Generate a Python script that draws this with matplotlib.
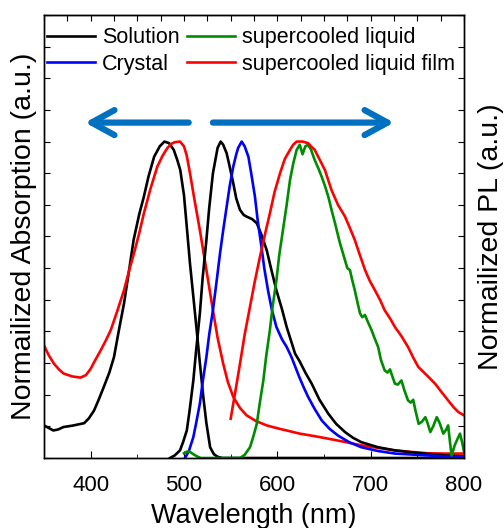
"""Absorption and PL spectra: solution, crystal, supercooled liquid and film."""

import matplotlib

matplotlib.use("Agg")
import matplotlib.pyplot as plt
from matplotlib.ticker import MultipleLocator

plt.rcParams["font.family"] = ["Liberation Sans", "DejaVu Sans"]

# absorption spectra (wavelength in nm, normalized intensity)
sol_abs_wl = [350, 355, 360, 365, 371, 380, 393, 398, 403.6, 408, 414, 420, 425,
              430, 435.7, 441, 446, 452, 457, 462, 468, 474, 479, 484, 489, 493,
              496, 500, 503, 506.4, 510, 513.6, 517, 520.7, 524, 528, 532, 536,
              541, 546, 600, 700, 800]
sol_abs = [0.103, 0.095, 0.087, 0.09, 0.098, 0.102, 0.110, 0.125, 0.150, 0.18,
           0.224, 0.27, 0.319, 0.40, 0.488, 0.59, 0.689, 0.77, 0.826, 0.89,
           0.952, 0.985, 1.0, 0.995, 0.974, 0.94, 0.91, 0.83, 0.73, 0.615, 0.51,
           0.404, 0.30, 0.193, 0.11, 0.034, 0.012, 0.004, 0.0, 0.0, 0.0, 0.0, 0.0]

film_abs_wl = [350, 355, 360.7, 366, 371, 380, 389, 395, 400, 405, 410.7, 416,
               421.5, 428, 435.7, 441, 446.4, 452, 457, 464, 471.4, 477, 482,
               486, 490, 495.7, 500, 503, 506.4, 511, 517, 524, 531, 536, 542,
               547, 552.8, 560, 567, 577, 588.6, 600, 610, 624, 640, 654.6, 672,
               690, 708, 726, 744, 761, 780, 797.5, 800]
film_abs = [0.356, 0.325, 0.298, 0.28, 0.267, 0.258, 0.254, 0.262, 0.282, 0.31,
            0.340, 0.37, 0.404, 0.46, 0.530, 0.59, 0.647, 0.71, 0.773, 0.85,
            0.921, 0.955, 0.979, 0.992, 0.998, 1.0, 0.985, 0.955, 0.90, 0.82,
            0.72, 0.594, 0.467, 0.38, 0.298, 0.24, 0.193, 0.158, 0.135, 0.117,
            0.103, 0.094, 0.087, 0.077, 0.069, 0.061, 0.051, 0.040, 0.032, 0.024,
            0.019, 0.015, 0.014, 0.014, 0.014]

# PL spectra
sol_pl_wl = [485, 490, 495.7, 499, 503, 506, 510, 513, 517, 520, 524, 527, 531,
             536, 539.3, 542, 545.7, 549, 552.8, 556, 560, 564, 567, 573, 578,
             583, 588.6, 594, 599, 605, 610, 619, 624, 630, 636.8, 645, 654.6,
             663, 672.5, 681, 690, 708, 726, 744, 761, 780, 800]
sol_pl = [0.0, 0.008, 0.024, 0.05, 0.087, 0.15, 0.245, 0.34, 0.457, 0.57, 0.689,
          0.79, 0.90, 0.98, 1.0, 0.99, 0.963, 0.92, 0.868, 0.82, 0.784, 0.768,
          0.763, 0.755, 0.742, 0.705, 0.657, 0.59, 0.530, 0.47, 0.414, 0.33,
          0.305, 0.27, 0.235, 0.185, 0.14, 0.108, 0.082, 0.064, 0.05, 0.034,
          0.024, 0.018, 0.013, 0.008, 0.005]

cryst_pl_wl = [501, 505, 510, 513, 517, 520, 524, 527, 531, 535, 538.6, 542,
               545.7, 549, 552.8, 556, 558, 561.8, 565, 569, 572, 576, 579, 583,
               586, 590, 594, 599, 605, 610, 615, 619, 623.5, 628, 633, 640,
               647.5, 656, 665, 677, 690, 708, 726, 744, 761, 780, 800]
cryst_pl = [0.0, 0.02, 0.066, 0.11, 0.172, 0.24, 0.319, 0.39, 0.467, 0.56, 0.647,
            0.72, 0.794, 0.86, 0.921, 0.96, 0.98, 1.0, 0.985, 0.952, 0.90, 0.826,
            0.75, 0.667, 0.60, 0.530, 0.47, 0.414, 0.375, 0.351, 0.32, 0.29,
            0.256, 0.225, 0.193, 0.155, 0.119, 0.092, 0.071, 0.05, 0.034, 0.022,
            0.014, 0.011, 0.008, 0.005, 0.003]

liquid_pl_wl = [500, 503, 506, 510, 514, 518, 540, 560, 565, 570.7, 574, 578,
                581, 585, 588, 592, 595, 599, 602, 606, 610, 613.6, 617, 620.7,
                624, 627, 630, 633, 636, 640, 644, 647.5, 651, 654.6, 658, 661.8,
                667, 672.5, 675, 677.8, 680, 683, 686, 688.6, 691, 693.9, 697,
                701, 704, 708, 711, 715, 718, 720.7, 723, 726, 729, 733, 736,
                740, 743, 745.6, 748, 751.4, 755, 758.6, 761, 763.9, 767, 770.8,
                774, 777.8, 781, 783, 785, 786.7, 788, 790, 793, 795.7, 798, 800]
liquid_pl = [0.015, 0.02, 0.02, 0.012, 0.005, 0.0, 0.0, 0.0, 0.01, 0.034, 0.065,
             0.108, 0.17, 0.245, 0.32, 0.404, 0.48, 0.561, 0.64, 0.72, 0.80,
             0.879, 0.93, 0.974, 0.99, 0.96, 0.985, 0.99, 0.975, 0.942, 0.915,
             0.889, 0.86, 0.826, 0.785, 0.742, 0.68, 0.625, 0.60, 0.594, 0.565,
             0.530, 0.49, 0.457, 0.445, 0.452, 0.43, 0.404, 0.38, 0.351, 0.31,
             0.277, 0.27, 0.28, 0.26, 0.235, 0.232, 0.245, 0.215, 0.182, 0.175,
             0.184, 0.15, 0.108, 0.115, 0.129, 0.11, 0.082, 0.10, 0.129, 0.11,
             0.077, 0.09, 0.103, 0.05, 0.008, 0.02, 0.04, 0.06, 0.077, 0.05, 0.02]

film_pl_wl = [550, 555, 560, 565, 570.7, 576, 581.4, 587, 592, 597, 602.9, 608,
              613.6, 617, 620.7, 624, 627, 633, 636, 640, 645, 651, 658, 665,
              672.5, 678, 683, 688, 694, 699, 704.6, 710, 715, 721, 726, 733,
              740, 746, 751, 760, 769, 776, 783, 789, 794, 800]
film_pl = [0.124, 0.21, 0.298, 0.39, 0.478, 0.56, 0.636, 0.71, 0.773, 0.84,
           0.90, 0.945, 0.974, 0.99, 1.0, 1.0, 1.0, 0.995, 0.985, 0.974, 0.945,
           0.91, 0.847, 0.80, 0.763, 0.725, 0.689, 0.645, 0.594, 0.56, 0.530,
           0.50, 0.467, 0.44, 0.414, 0.385, 0.351, 0.315, 0.288, 0.262, 0.235,
           0.208, 0.182, 0.16, 0.145, 0.135]

fig = plt.figure(figsize=(5.04, 5.28), dpi=100)
ax = fig.add_axes([44 / 504, 1 - 458 / 528, 420 / 504, 443 / 528])
ax2 = ax.twinx()

lw = 1.9
ax.plot(sol_abs_wl, sol_abs, color="black", lw=lw)
ax.plot(film_abs_wl, film_abs, color="red", lw=lw)
h_sol, = ax.plot(sol_pl_wl, sol_pl, color="black", lw=lw, label="Solution")
h_cry, = ax.plot(cryst_pl_wl, cryst_pl, color="blue", lw=lw, label="Crystal")
h_liq, = ax.plot(liquid_pl_wl, liquid_pl, color="#008c00", lw=lw,
                 label="supercooled liquid")
h_film, = ax.plot(film_pl_wl, film_pl, color="red", lw=lw,
                  label="supercooled liquid film")

# direction arrows: absorption to the left, PL to the right
arrow_kw = dict(arrowstyle="->, head_length=1.1, head_width=0.6",
                color="#0070C0", lw=4.5, mutation_scale=15)
ax.annotate("", xy=(391, 1.06), xytext=(508, 1.06), arrowprops=arrow_kw)
ax.annotate("", xy=(728, 1.06), xytext=(528, 1.06), arrowprops=arrow_kw)

for a in (ax, ax2):
    a.set_ylim(0, 1.4)
    a.yaxis.set_major_locator(MultipleLocator(0.1))
    a.tick_params(axis="y", direction="in", length=4, labelleft=False,
                  labelright=False)
    for s in a.spines.values():
        s.set_linewidth(1.0)

ax.set_xlim(350, 800)
ax.xaxis.set_major_locator(MultipleLocator(100))
ax.xaxis.set_minor_locator(MultipleLocator(50))
ax.tick_params(axis="x", which="both", direction="in", labelsize=16, pad=12)
ax.tick_params(axis="x", which="major", length=5)
ax.tick_params(axis="x", which="minor", length=3)
top = ax.secondary_xaxis("top")
top.xaxis.set_major_locator(MultipleLocator(25))
top.tick_params(direction="in", length=4, labeltop=False)

ax.set_xlabel("Wavelength (nm)", fontsize=19.5, labelpad=5)
ax.set_ylabel("Normailized Absorption (a.u.)", fontsize=20.5, labelpad=5)
ax2.set_ylabel("Normailized PL (a.u.)", fontsize=20.5, labelpad=10)

ax.legend(handles=[h_sol, h_cry, h_liq, h_film], ncol=2, loc="upper left",
          bbox_to_anchor=(0.0, 0.98), frameon=False, fontsize=15.5,
          handlelength=2.2, handletextpad=0.35, columnspacing=0.35,
          labelspacing=0.27, borderaxespad=0.0, borderpad=0.15)

fig.savefig("out.png", dpi=100)
